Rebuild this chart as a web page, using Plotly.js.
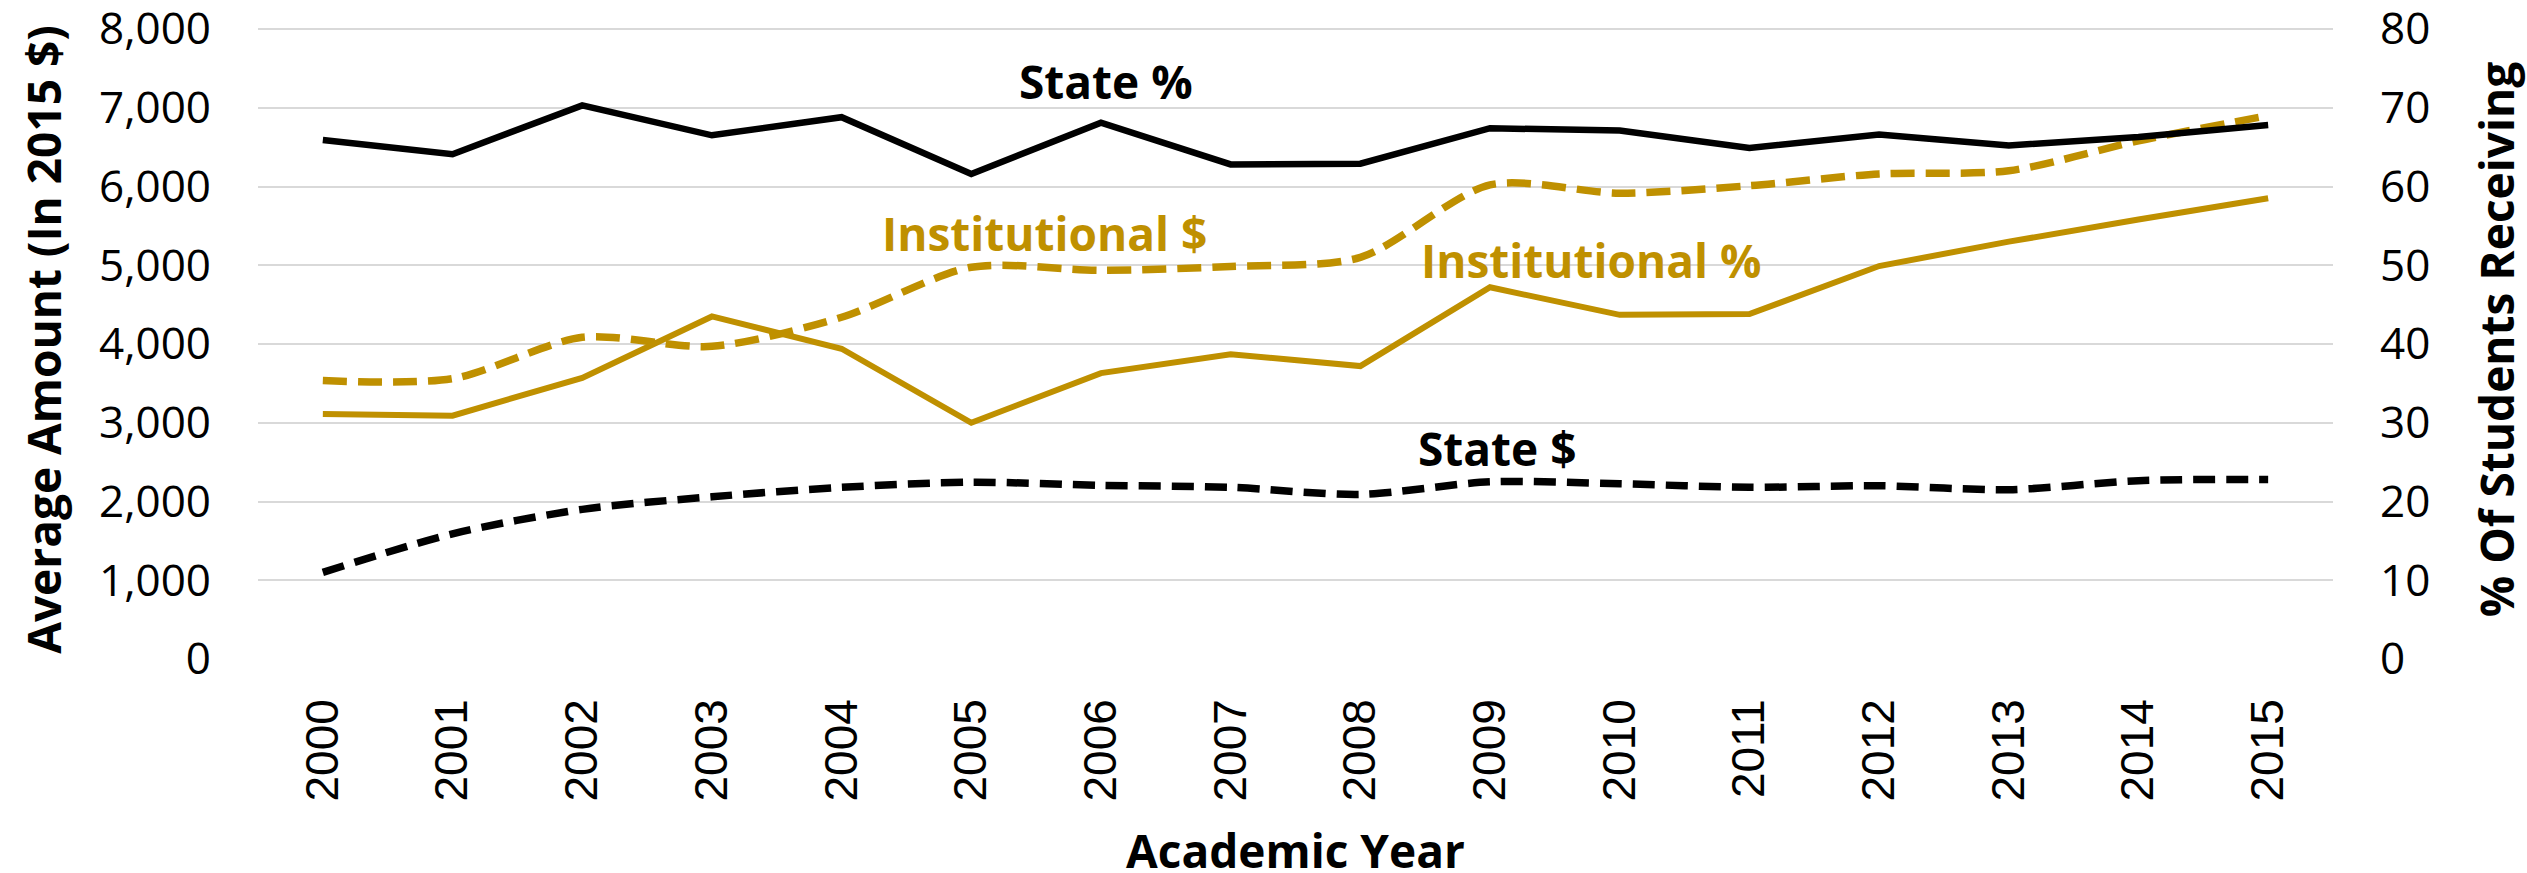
<!DOCTYPE html>
<html>
<head>
<meta charset="utf-8">
<script src="https://cdn.plot.ly/plotly-3.0.1.min.js"></script>
<style>
  html, body { margin: 0; padding: 0; background: #ffffff; }
  #chart { width: 2527px; height: 873px; }
</style>
</head>
<body>
<div id="chart"></div>
<script>
// ---- Data ----
const years = ['2000','2001','2002','2003','2004','2005','2006','2007',
               '2008','2009','2010','2011','2012','2013','2014','2015'];

// Left axis: average amount (in 2015 $)
const stateDollars = [1100, 1590, 1900, 2060, 2180, 2245, 2205, 2180,
                      2090, 2250, 2225, 2180, 2200, 2150, 2265, 2280];
const institutionalDollars = [3535, 3560, 4085, 3970, 4340, 4975, 4935, 4985,
                              5100, 6020, 5915, 6010, 6160, 6200, 6580, 6900];

// Right axis: % of students receiving
const statePct = [65.9, 64.1, 70.3, 66.5, 68.8, 61.6, 68.1, 62.8,
                  62.9, 67.4, 67.1, 64.9, 66.6, 65.2, 66.3, 67.8];
const institutionalPct = [31.1, 30.9, 35.7, 43.5, 39.4, 30.0, 36.3, 38.7,
                          37.2, 47.2, 43.7, 43.8, 49.9, 53.0, 55.8, 58.5];

const leftTicks = [0, 1000, 2000, 3000, 4000, 5000, 6000, 7000, 8000];
const rightTicks = [0, 10, 20, 30, 40, 50, 60, 70, 80];

// Series labels drawn on the chart
const labels = ['State %', 'Institutional $', 'Institutional %', 'State $'];
const xTitle = 'Academic Year';

// ---- Styles ----
const GOLD = '#BF9000';
const BLACK = '#000000';
const tickFont = {family: 'Open Sans, DejaVu Sans, sans-serif', size: 44, color: '#000000'};
const yearFont = {family: 'Liberation Sans, Arial, sans-serif', size: 46, color: '#000000'};
const boldFont = (c) => ({family: 'Open Sans, DejaVu Sans, sans-serif', size: 46, weight: 700, color: c});

// plot area top is 20px from the page top; the 8,000 / 80 gridline sits 9px lower
const topPad = 639 / 630;

const traces = [
  {
    x: years, y: statePct, yaxis: 'y2', type: 'scatter', mode: 'lines',
    name: labels[0], line: {color: BLACK, width: 6.5}
  },
  {
    x: years, y: stateDollars, yaxis: 'y', type: 'scatter', mode: 'lines',
    name: labels[3], line: {color: BLACK, width: 7.5, dash: '22px,11px', shape: 'spline', smoothing: 0.8}
  },
  {
    x: years, y: institutionalPct, yaxis: 'y2', type: 'scatter', mode: 'lines',
    name: labels[2], line: {color: GOLD, width: 6}
  },
  {
    x: years, y: institutionalDollars, yaxis: 'y', type: 'scatter', mode: 'lines',
    name: labels[1], line: {color: GOLD, width: 7.5, dash: '24px,11px', shape: 'spline', smoothing: 0.8}
  }
];

const layout = {
  width: 2527, height: 873,
  margin: {l: 258, r: 194, t: 20, b: 214, pad: 0},
  paper_bgcolor: '#ffffff', plot_bgcolor: '#ffffff',
  showlegend: false,
  xaxis: {
    type: 'category', range: [-0.5, 15.5],
    showgrid: false, zeroline: false, showline: false, ticks: '',
    tickangle: -90, tickfont: yearFont, ticklabelstandoff: 30
  },
  yaxis: {
    range: [0, 8000 * topPad], tickvals: leftTicks, tickformat: ',d',
    showgrid: true, gridcolor: '#D9D9D9', gridwidth: 2,
    zeroline: false, showline: false, ticks: '',
    tickfont: tickFont, ticklabelstandoff: 46, ticklabeloverflow: 'allow',
    title: {text: 'Average Amount (In 2015 $)', font: boldFont(BLACK), standoff: 22}
  },
  yaxis2: {
    overlaying: 'y', side: 'right',
    range: [0, 80 * topPad], tickvals: rightTicks,
    showgrid: false, zeroline: false, showline: false, ticks: '',
    tickfont: tickFont, ticklabelstandoff: 46, ticklabeloverflow: 'allow',
    title: {text: '% Of Students Receiving', font: boldFont(BLACK), standoff: 52}
  },
  annotations: [
    {text: labels[0], xref: 'paper', yref: 'paper', x: 0.4087, y: 0.9175 * 630 / 639, xanchor: 'center', yanchor: 'middle', showarrow: false, font: boldFont(BLACK)},
    {text: labels[1], xref: 'paper', yref: 'paper', x: 0.3788, y: 0.6754 * 630 / 639, xanchor: 'center', yanchor: 'middle', showarrow: false, font: boldFont(GOLD)},
    {text: labels[2], xref: 'paper', yref: 'paper', x: 0.6424, y: 0.6341 * 630 / 639, xanchor: 'center', yanchor: 'middle', showarrow: false, font: boldFont(GOLD)},
    {text: labels[3], xref: 'paper', yref: 'paper', x: 0.5971, y: 0.3357 * 630 / 639, xanchor: 'center', yanchor: 'middle', showarrow: false, font: boldFont(BLACK)},
    {text: xTitle, xref: 'paper', yref: 'paper', x: 0.5, y: -191 / 639, xanchor: 'center', yanchor: 'middle', showarrow: false, font: boldFont(BLACK)}
  ]
};

Plotly.newPlot('chart', traces, layout, {displayModeBar: false, staticPlot: true});
</script>
</body>
</html>
